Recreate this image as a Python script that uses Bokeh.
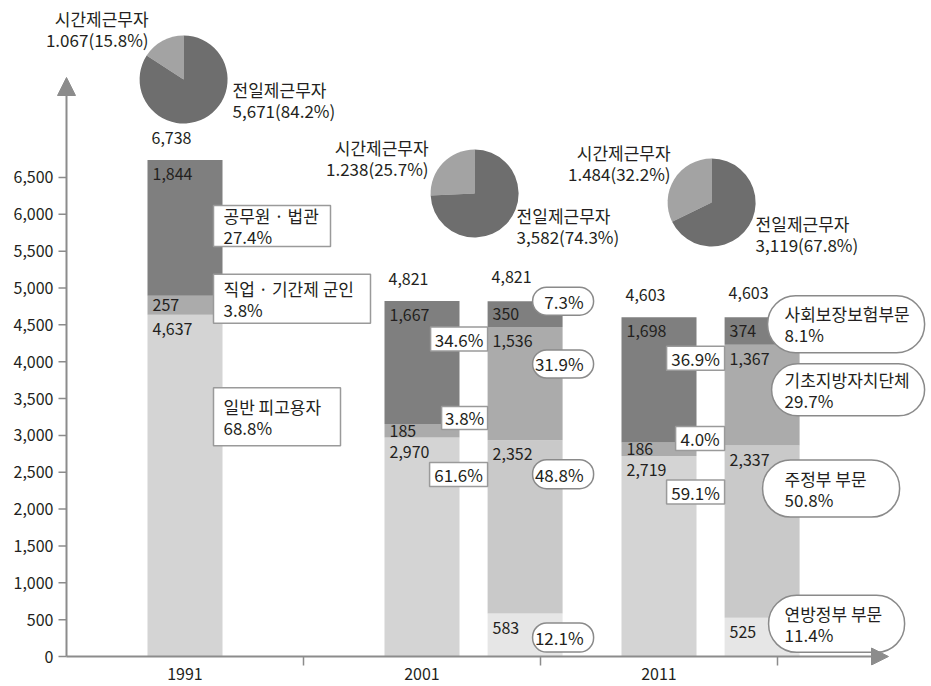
import math
from bokeh.plotting import figure
from bokeh.models import (Range1d, FixedTicker, NumeralTickFormatter, Arrow,
                          NormalHead, Label, ColumnDataSource)
from bokeh.core.properties import value
from bokeh.embed import file_html
from bokeh.resources import INLINE

# ---------------- data ----------------
years = ["1991", "2001", "2011"]
# left bars: by employment type
general_employees = [4637, 2970, 2719]      # 일반 피고용자
soldiers = [257, 185, 186]                  # 직업 · 기간제 군인
civil_servants = [1844, 1667, 1698]         # 공무원 · 법관
type_totals = [6738, 4821, 4603]
share_general = [68.8, 61.6, 59.1]
share_soldiers = [3.8, 3.8, 4.0]
share_civil = [27.4, 34.6, 36.9]
type_names = ["일반 피고용자", "직업 · 기간제 군인", "공무원 · 법관"]

# right bars: by government level (2001, 2011)
level_years = ["2001", "2011"]
federal = [583, 525]                        # 연방정부 부문
state = [2352, 2337]                        # 주정부 부문
municipal = [1536, 1367]                    # 기초지방자치단체
social_insurance = [350, 374]               # 사회보장보험부문
level_totals = [4821, 4603]
share_federal = [12.1, 11.4]
share_state = [48.8, 50.8]
share_municipal = [31.9, 29.7]
share_social = [7.3, 8.1]
level_names = ["연방정부 부문", "주정부 부문", "기초지방자치단체", "사회보장보험부문"]

# pies: part-time / full-time
part_time = [1067, 1238, 1484]
full_time = [5671, 3582, 3119]
part_share = [15.8, 25.7, 32.2]
full_share = [84.2, 74.3, 67.8]
part_name = "시간제근무자"
full_name = "전일제근무자"

y_ticks = list(range(0, 7000, 500))

# ---------------- layout / style ----------------
FONT = "Noto Sans CJK KR"
TXT = "#231f20"
AXIS = "#8c8c8c"
W, H = 931, 686
B_LEFT, B_BOTTOM = 40, 21
ORIGIN_X = 66            # page px of x = 0
ORIGIN_Y = 656           # page px of y = 0
YLABEL_RIGHT = 53        # page px of right edge of y tick labels
Y_TICK_LEN = 8
PX_Y = 0.0737            # pixels per unit
GROUP_PX = 237           # pixels per year group


def dy(px):
    return px / PX_Y


def dx(px):
    return px / GROUP_PX


X0, X1 = -dx(ORIGIN_X - B_LEFT), dx(W - ORIGIN_X)
Y0, Y1 = -dy(H - B_BOTTOM - ORIGIN_Y), dy(ORIGIN_Y)

BAR_W = dx(75)
LEFT_OFF = 0.5
RIGHT_OFF = 0.935
type_colors = ["#d4d4d4", "#ababab", "#7f7f7f"]
level_colors = ["#e6e6e6", "#c9c9c9", "#ababab", "#7f7f7f"]
PIE_DARK, PIE_LIGHT = "#6e6e6e", "#a3a3a3"
PIE_R = 44
pie_cx = [0.494, 1.722, 2.722]
pie_cy = [7829, 6282, 6160]
# label block offsets in px (dx, dy-up) relative to pie centre
part_lbl_off = [(-35, 51), (-46, 36), (-41, 40)]
full_lbl_off = [(49, -20), (42, -32), (44, -31)]
LINE_GAP = 21            # px between the two lines of a label
# callout boxes: centre offset below segment top (px), widths, heights (px)
type_callout_off = [[102, 3, 66], [37, -6, 38], [36, -4, 41]]
type_box_w = [[127, 157, 117], [58, 46, 57], [58, 49, 58]]
type_box_h = [[58, 49, 41], [24, 23, 24], [24, 24, 24]]
level_callout_off = [[24, 34, 37, 0], [6, 43, 45, 7]]
level_box_left = [[-30, -30, -30, -30], [-31, -37, -28, -32]]   # from bar right
level_box_w = [[61, 61, 61, 61], [136, 137, 153, 157]]
level_box_h = [[29, 29, 28, 28], [57, 57, 52, 57]]
LBL_SIZE = "17px"

p = figure(width=W, height=H, output_backend="svg", toolbar_location=None,
           x_range=Range1d(X0, X1), y_range=Range1d(Y0, Y1),
           min_border_left=B_LEFT, min_border_bottom=B_BOTTOM,
           min_border_top=0, min_border_right=0)
p.outline_line_color = None
p.grid.visible = False
p.background_fill_color = "white"

# y axis (labels from the axis; tick marks drawn at the axis line)
p.yaxis.ticker = FixedTicker(ticks=y_ticks)
p.yaxis.formatter = NumeralTickFormatter(format="0,0")
p.yaxis.axis_line_color = None
p.yaxis.major_tick_out = 0
p.yaxis.major_tick_in = 0
p.yaxis.major_tick_line_color = None
p.yaxis.minor_tick_line_color = None
p.yaxis.major_label_standoff = B_LEFT - YLABEL_RIGHT
p.yaxis.major_label_text_font = FONT
p.yaxis.major_label_text_font_size = "16px"
p.yaxis.major_label_text_color = TXT
p.segment(x0=[-dx(Y_TICK_LEN)] * len(y_ticks), x1=[0] * len(y_ticks),
          y0=y_ticks, y1=y_ticks, line_color=AXIS, line_width=1.5)

# x axis
year_ticks = [g + LEFT_OFF for g in range(len(years))]
p.xaxis.ticker = FixedTicker(ticks=year_ticks,
                             minor_ticks=[g + 1.0 for g in range(len(years))])
p.xaxis.major_label_overrides = {t: y for t, y in zip(year_ticks, years)}
p.xaxis.axis_line_color = None
p.xaxis.major_tick_line_color = None
p.xaxis.major_tick_out = 0
p.xaxis.major_tick_in = 0
p.xaxis.minor_tick_out = 0
p.xaxis.minor_tick_in = H - B_BOTTOM - ORIGIN_Y
p.xaxis.minor_tick_line_color = AXIS
p.xaxis.minor_tick_line_width = 1.5
p.xaxis.major_label_standoff = 2
p.xaxis.major_label_text_font = FONT
p.xaxis.major_label_text_font_size = "16px"
p.xaxis.major_label_text_color = TXT

# axis arrows
p.add_layout(Arrow(x_start=0, y_start=0, x_end=0, y_end=dy(579),
                   line_color=AXIS, line_width=2,
                   end=NormalHead(size=18, fill_color=AXIS, line_color=AXIS)))
p.add_layout(Arrow(x_start=0, y_start=0, x_end=dx(822), y_end=0,
                   line_color=AXIS, line_width=2,
                   end=NormalHead(size=17, fill_color=AXIS, line_color=AXIS)))

seg_x, seg_b, seg_t, seg_c = [], [], [], []
lab_x, lab_y, lab_t = [], [], []


def add_stack(xc, values, colors):
    bottom = 0
    tops = []
    for v, c in zip(values, colors):
        top = bottom + v
        seg_x.append(xc)
        seg_b.append(bottom)
        seg_t.append(top)
        seg_c.append(c)
        lab_x.append(xc - BAR_W / 2 + dx(5))
        lab_y.append(top - min(dy(14), v / 2))
        lab_t.append(f"{v:,}")
        tops.append(top)
        bottom = top
    return tops


type_tops = []
for g in range(len(years)):
    type_tops.append(add_stack(g + LEFT_OFF,
                               [general_employees[g], soldiers[g], civil_servants[g]],
                               type_colors))
level_tops = []
for i, ly in enumerate(level_years):
    g = years.index(ly)
    level_tops.append(add_stack(g + RIGHT_OFF,
                                [federal[i], state[i], municipal[i], social_insurance[i]],
                                level_colors))

p.vbar(x="x", width=BAR_W, bottom="b", top="t", color="c", line_color=None,
       source=ColumnDataSource(dict(x=seg_x, b=seg_b, t=seg_t, c=seg_c)))

# totals above bars
tot_x, tot_y, tot_t = [], [], []
for g, tot in enumerate(type_totals):
    tot_x.append(g + LEFT_OFF - BAR_W / 2 + dx(4))
    tot_y.append(type_tops[g][-1] + dy(22))
    tot_t.append(f"{tot:,}")
for i, ly in enumerate(level_years):
    g = years.index(ly)
    tot_x.append(g + RIGHT_OFF - BAR_W / 2 + dx(4))
    tot_y.append(level_tops[i][-1] + dy(24))
    tot_t.append(f"{level_totals[i]:,}")

p.text(x=lab_x + tot_x, y=lab_y + tot_y, text=lab_t + tot_t,
       text_font=value(FONT), text_font_size="16px", text_color=TXT,
       text_align="left", text_baseline="middle")

# pies
w_x, w_y, w_s, w_e, w_c = [], [], [], [], []
for g in range(len(years)):
    frac = part_time[g] / (part_time[g] + full_time[g])
    a0 = math.pi / 2
    a1 = a0 + 2 * math.pi * frac
    w_x += [pie_cx[g]] * 2
    w_y += [pie_cy[g]] * 2
    w_s += [a0, a1]
    w_e += [a1, a0 + 2 * math.pi]
    w_c += [PIE_LIGHT, PIE_DARK]

p.wedge(x="x", y="y", radius=PIE_R, radius_units="screen", start_angle="s",
        end_angle="e", color="c", line_color=None,
        source=ColumnDataSource(dict(x=w_x, y=w_y, s=w_s, e=w_e, c=w_c)))


def plabel(x, y, text, align):
    p.add_layout(Label(x=x, y=y, text=text, text_font=FONT,
                       text_font_size=LBL_SIZE, text_color=TXT,
                       text_align=align, text_baseline="middle"))


for g in range(len(years)):
    ox, oy = part_lbl_off[g]
    xx = pie_cx[g] + dx(ox)
    plabel(xx, pie_cy[g] + dy(oy + LINE_GAP / 2), part_name, "right")
    plabel(xx, pie_cy[g] + dy(oy - LINE_GAP / 2),
           f"{part_time[g]:,}".replace(",", ".") + f"({part_share[g]}%)", "right")
    ox, oy = full_lbl_off[g]
    xx = pie_cx[g] + dx(ox)
    plabel(xx, pie_cy[g] + dy(oy + LINE_GAP / 2), full_name, "left")
    plabel(xx, pie_cy[g] + dy(oy - LINE_GAP / 2),
           f"{full_time[g]:,}({full_share[g]}%)", "left")

# ---------------- callouts ----------------
boxes = {0: dict(l=[], r=[], t=[], b=[]), 14: dict(l=[], r=[], t=[], b=[]),
         28: dict(l=[], r=[], t=[], b=[])}
ct_x, ct_y, ct_t, ct_a = [], [], [], []


def add_box(radius, left, width, yc, height):
    d = boxes[radius]
    d["l"].append(left)
    d["r"].append(left + dx(width))
    d["t"].append(yc + dy(height / 2))
    d["b"].append(yc - dy(height / 2))


def add_lines(x, yc, lines, align):
    n = len(lines)
    for j, ln in enumerate(lines):
        ct_x.append(x)
        ct_y.append(yc + dy(LINE_GAP * ((n - 1) / 2 - j)))
        ct_t.append(ln)
        ct_a.append(align)


type_shares = [share_general, share_soldiers, share_civil]
for g in range(len(years)):
    for k in range(3):
        yc = type_tops[g][k] - dy(type_callout_off[g][k])
        w, h = type_box_w[g][k], type_box_h[g][k]
        if g == 0:
            left = g + LEFT_OFF + BAR_W / 2 - dx(9)
            add_box(0, left, w, yc, h)
            add_lines(left + dx(10), yc,
                      [type_names[k], f"{type_shares[k][g]}%"], "left")
        else:
            right = g + RIGHT_OFF - BAR_W / 2
            add_box(0, right - dx(w), w, yc, h)
            add_lines(right - dx(w / 2), yc, [f"{type_shares[k][g]}%"], "center")

level_shares = [share_federal, share_state, share_municipal, share_social]
for i, ly in enumerate(level_years):
    g = years.index(ly)
    bar_right = g + RIGHT_OFF + BAR_W / 2
    for k in range(4):
        yc = level_tops[i][k] - dy(level_callout_off[i][k])
        left = bar_right + dx(level_box_left[i][k])
        w, h = level_box_w[i][k], level_box_h[i][k]
        if i == 0:
            add_box(14, left, w, yc, h)
            add_lines(left + dx(w - 10), yc, [f"{level_shares[k][i]}%"], "right")
        else:
            add_box(28, left, w, yc, h)
            add_lines(bar_right - dx(15), yc,
                      [level_names[k], f"{level_shares[k][i]}%"], "left")

for radius, border in ((0, "#9a9a9a"), (14, "#8a8a8a"), (28, "#8a8a8a")):
    d = boxes[radius]
    p.quad(left=d["l"], right=d["r"], top=d["t"], bottom=d["b"],
           fill_color="white", line_color=border, line_width=1.5,
           border_radius=radius)

p.text(x="x", y="y", text="t", text_align="a",
       source=ColumnDataSource(dict(x=ct_x, y=ct_y, t=ct_t, a=ct_a)),
       text_font=value(FONT), text_font_size=LBL_SIZE, text_color=TXT,
       text_baseline="middle")

open("out.html", "w").write(file_html(p, INLINE))
